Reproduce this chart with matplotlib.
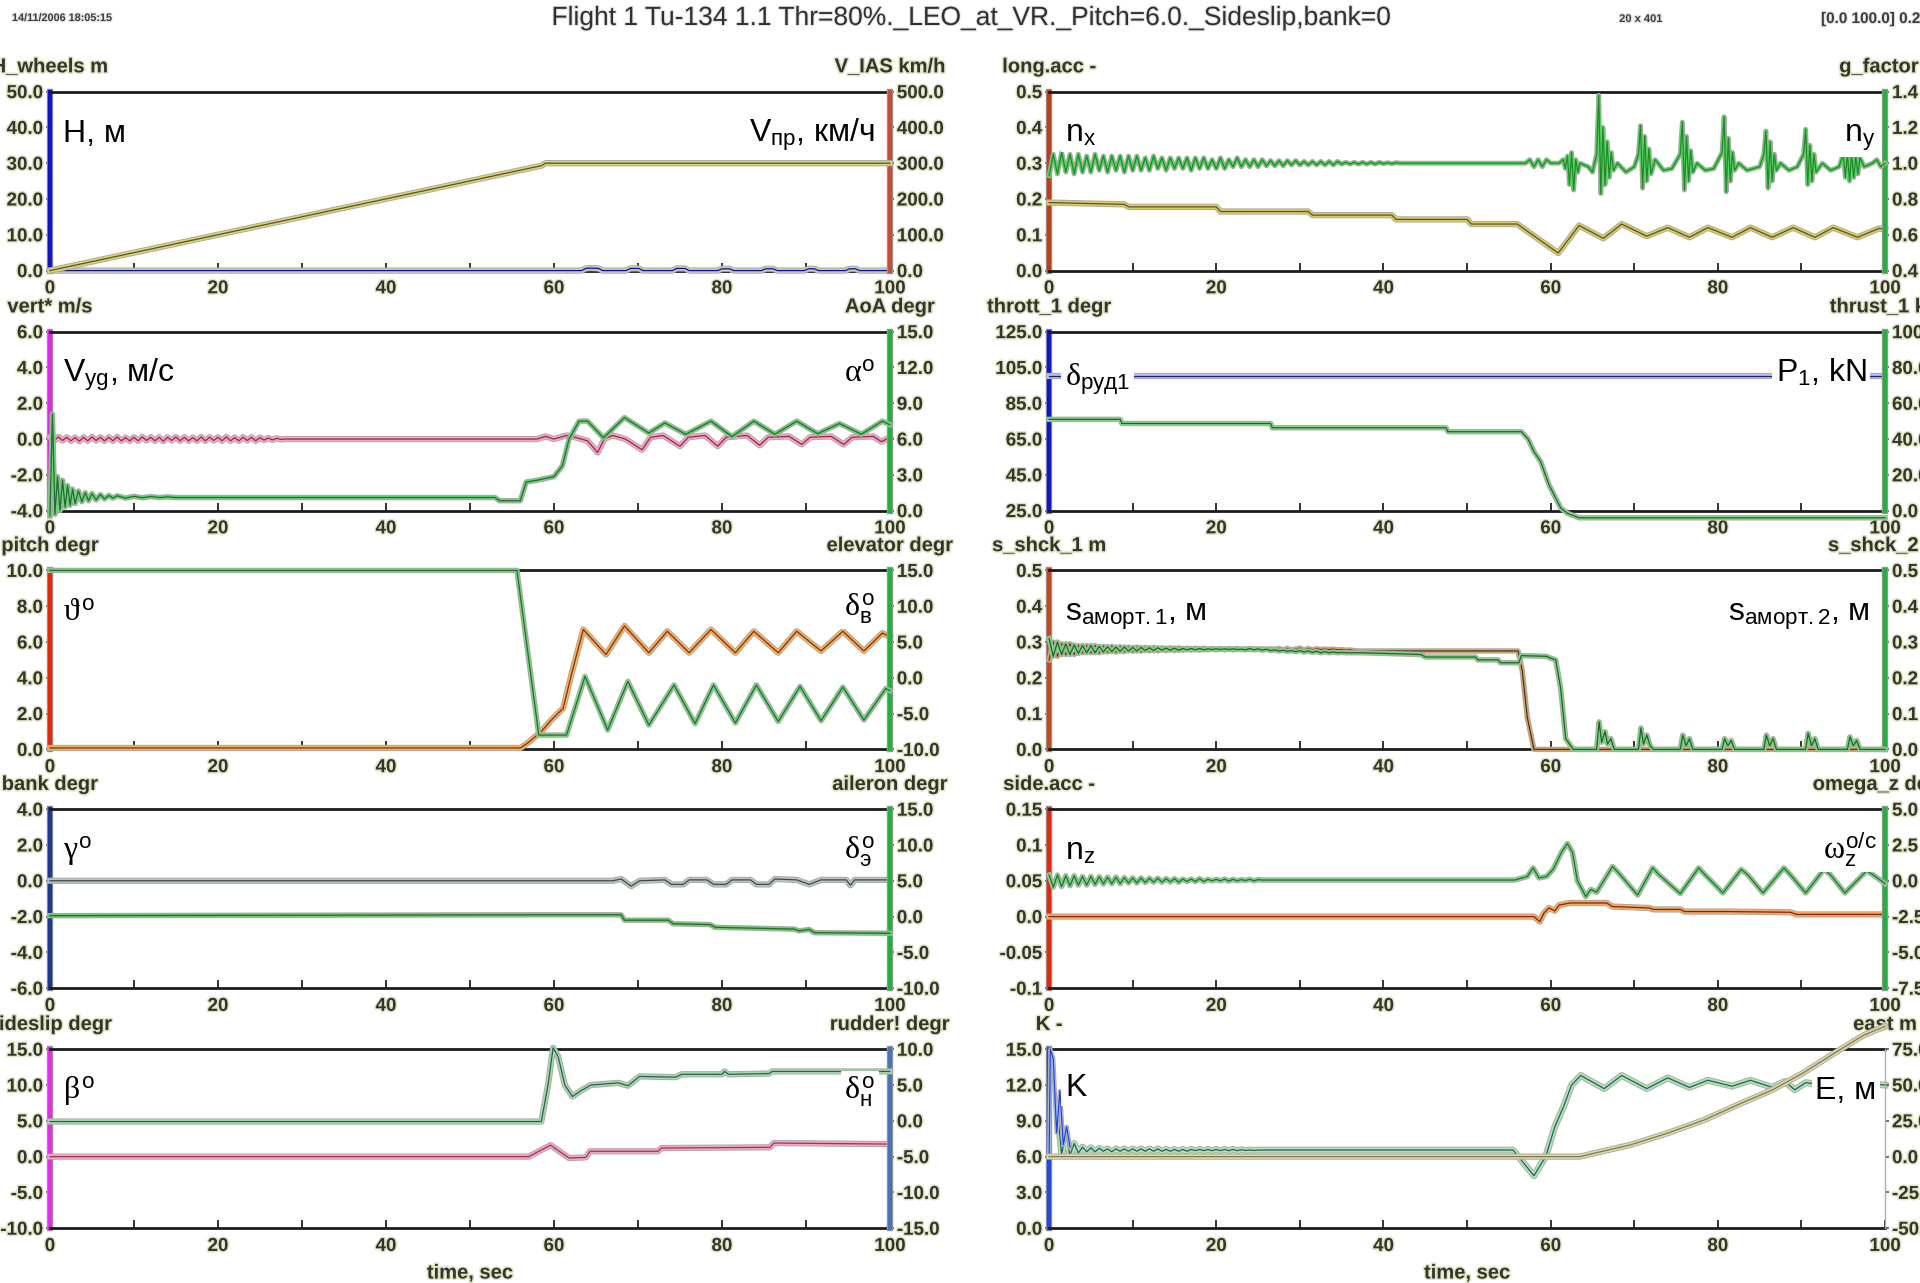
import numpy as np
import matplotlib
matplotlib.use('Agg')
import matplotlib.pyplot as plt
import matplotlib.patheffects as pe
from matplotlib import font_manager


def pick_font(names):
    for n in names:
        try:
            font_manager.findfont(n, fallback_to_default=False)
            return n
        except ValueError:
            pass
    return 'DejaVu Sans'


SANS = pick_font(['Liberation Sans', 'Arial', 'DejaVu Sans'])
SERIF = pick_font(['Liberation Serif', 'DejaVu Serif'])
plt.rcParams['font.family'] = [SANS, 'DejaVu Sans']
plt.rcParams['mathtext.fontset'] = 'custom'
plt.rcParams['mathtext.rm'] = SANS
plt.rcParams['mathtext.it'] = SERIF
plt.rcParams['mathtext.bf'] = SANS + ':bold'

# ---------------- data ----------------
STEP = 0.5  # sample spacing used for the noisy stretches

# row 1 left: height of wheels / indicated airspeed
vias = [(0, 0.0), (58.5, 293.0), (59.0, 300.0), (100, 300.0)]
h_wheels = [(0, 0.0), (63.3, 0.0), (63.8, 0.6), (64.3, 0.7), (65.3, 0.6), (65.8, 0.0),
            (68.6, 0.0), (69.1, 0.6), (70.1, 0.6), (70.6, 0.0),
            (74.1, 0.0), (74.6, 0.6), (75.6, 0.6), (76.1, 0.0),
            (79.5, 0.0), (80.0, 0.5), (80.9, 0.5), (81.4, 0.0),
            (84.7, 0.0), (85.2, 0.5), (86.1, 0.5), (86.6, 0.0),
            (89.8, 0.0), (90.3, 0.5), (91.0, 0.5), (91.5, 0.0),
            (94.7, 0.0), (95.2, 0.5), (95.9, 0.5), (96.4, 0.0), (100, 0.0)]

# row 2 left: vertical speed / angle of attack
vert_noise = [0.1, -0.1, 0.12, -0.08, 0.1, -0.1, 0.08, -0.12, 0.1, -0.1, 0.12, -0.08, 0.1, -0.1,
              0.1, -0.1, 0.12, -0.1, 0.08, -0.1, 0.1,
              -0.1, 0.12, -0.08, 0.1, -0.1, 0.1, -0.12, 0.1, -0.08, 0.12, -0.1, 0.1, -0.1, 0.08,
              -0.1, 0.12, -0.1, 0.1, -0.08,
              0.1, -0.1, 0.12, -0.1, 0.08, -0.1, 0.1, -0.08, 0.1, -0.1, 0.08, -0.06, 0.06, -0.05,
              0.04, -0.02, 0.0]
vert_late = [(28.5, 0.0), (58.0, 0.0), (59.0, 0.15), (60.0, 0.0), (61.5, 0.2), (62.5, 0.1),
             (64.0, -0.1), (65.2, -0.75), (66.0, 0.0), (67.0, 0.2), (68.5, 0.0), (70.5, -0.6),
             (71.5, 0.1), (73.0, 0.2), (75.0, -0.4), (76.0, 0.1), (78.0, 0.2), (79.5, -0.4),
             (80.5, 0.1), (83.0, 0.2), (84.5, -0.35), (85.5, 0.1), (88.0, 0.15), (89.5, -0.3),
             (90.5, 0.1), (93.0, 0.15), (94.5, -0.3), (95.5, 0.1), (98.0, 0.15), (99.0, -0.15),
             (100, 0.1)]
aoa = [(0, -0.45), (0.3, 8.1), (0.6, -0.3), (0.9, 2.85), (1.2, 0.0), (1.5, 2.55), (1.8, 0.3),
       (2.1, 2.1), (2.4, 0.45), (2.7, 1.8), (3.0, 0.6), (3.4, 1.65), (3.8, 0.75), (4.2, 1.5),
       (4.6, 0.83), (5.0, 1.43), (5.5, 0.9), (6.0, 1.35), (6.5, 0.98), (7.0, 1.28), (7.5, 1.05),
       (8.0, 1.25), (9.0, 1.05), (10.0, 1.2), (11.0, 1.08), (12.0, 1.18), (13.0, 1.1),
       (14.0, 1.15), (15.0, 1.1), (53.0, 1.1), (53.5, 0.83), (56.0, 0.83), (56.7, 2.4),
       (58.0, 2.55), (60.0, 2.85), (61.0, 3.75), (61.8, 6.0), (63.0, 7.5), (64.0, 7.5),
       (65.9, 6.1), (68.4, 7.8), (71.3, 6.5), (73.2, 7.35), (75.7, 6.4), (78.7, 7.5),
       (81.2, 6.2), (83.8, 7.5), (86.3, 6.4), (88.9, 7.5), (91.4, 6.45), (94.0, 7.3),
       (96.6, 6.4), (99.1, 7.5), (100, 7.2)]

# row 3 left: pitch / elevator
pitch = [(0, 0.08), (56.0, 0.08), (57.0, 0.4), (58.5, 1.0), (59.6, 1.6), (61.1, 2.3), (62.2, 4.4),
         (63.5, 6.7), (66.2, 5.3), (68.4, 6.9), (71.3, 5.4), (73.5, 6.6), (76.1, 5.4), (78.7, 6.7),
         (81.6, 5.4), (83.8, 6.6), (86.7, 5.4), (88.9, 6.6), (91.8, 5.5), (94.4, 6.6), (96.9, 5.5),
         (99.1, 6.5), (100, 6.3)]
elevator = [(0, 15.0), (55.6, 15.0), (58.2, -8.0), (61.5, -8.0), (63.7, 0.2), (66.4, -7.3),
            (68.8, -0.5), (71.3, -6.6), (74.3, -1.0), (76.8, -6.4), (79.0, -1.0), (81.6, -6.3),
            (84.1, -1.0), (86.7, -6.1), (89.3, -1.2), (91.8, -6.0), (94.4, -1.3), (96.9, -5.9),
            (99.5, -1.5), (100, -1.8)]

# row 4 left: bank / aileron
bank = [(0, 0.0), (67.0, 0.0), (68.0, 0.1), (69.2, -0.3), (70.2, 0.0), (73.2, 0.05), (74.0, -0.2),
        (75.4, -0.2), (76.1, 0.05), (78.2, 0.05), (79.0, -0.2), (80.5, -0.2), (81.2, 0.05),
        (83.4, 0.05), (84.1, -0.2), (85.6, -0.2), (86.3, 0.1), (88.9, 0.05), (90.4, -0.2),
        (91.8, 0.05), (94.8, 0.05), (95.3, -0.25), (95.8, 0.05), (100, 0.05)]
aileron = [(0, 0.125), (59.6, 0.25), (68.0, 0.25), (68.4, -0.5), (73.6, -0.5), (74.2, -1.0),
           (78.6, -1.125), (79.2, -1.5), (88.6, -1.75), (89.2, -2.0), (90.4, -1.8), (91.0, -2.25),
           (100, -2.33)]

# row 5 left: sideslip / rudder
sideslip = [(0, 0.0), (57.0, 0.0), (59.6, 1.6), (61.8, -0.2), (63.8, -0.1), (64.3, 0.75),
            (72.4, 0.75), (72.8, 1.2), (85.7, 1.3), (86.2, 1.9), (100, 1.75)]
rudder = [(0, -0.1), (58.5, -0.1), (59.3, 5.0), (59.9, 10.2), (60.5, 9.0), (61.3, 5.0), (62.2, 3.4),
          (63.2, 4.2), (64.4, 5.0), (67.7, 5.3), (68.8, 4.9), (70.2, 6.2), (74.5, 6.1), (75.2, 6.5),
          (80.0, 6.5), (80.3, 6.9), (80.8, 6.5), (85.6, 6.6), (86.0, 6.9), (100, 6.9)]

# row 1 right: longitudinal / normal load factor
n_x = [(0, 0.19), (9.0, 0.185), (9.5, 0.178), (20.0, 0.178), (20.5, 0.165), (31.0, 0.165),
       (31.5, 0.155), (41.0, 0.155), (41.5, 0.143), (50.0, 0.143), (50.5, 0.13), (56.0, 0.13),
       (60.9, 0.049), (63.4, 0.126), (66.3, 0.09), (68.5, 0.13), (71.5, 0.096), (74.0, 0.12),
       (76.6, 0.093), (78.8, 0.12), (81.7, 0.093), (83.9, 0.12), (86.5, 0.093), (89.0, 0.12),
       (91.6, 0.093), (93.8, 0.12), (96.7, 0.093), (99.3, 0.118), (100, 0.115)]
ny_noise = [0.93, 1.05, 0.94, 1.06, 0.95, 1.05, 0.94, 1.05, 0.95, 1.04, 0.95, 1.05, 0.96, 1.04,
            0.95, 1.04, 0.96, 1.04, 0.95, 1.04, 0.96,
            1.04, 0.96, 1.03, 0.96, 1.04, 0.97, 1.03, 0.96, 1.03, 0.97, 1.03, 0.97, 1.03, 0.96,
            1.03, 0.97, 1.03, 0.97, 1.02,
            0.97, 1.03, 0.97, 1.02, 0.98, 1.03, 0.98, 1.02, 0.98, 1.02, 0.98, 1.02, 0.985, 1.015,
            0.985, 1.015, 0.985, 1.015, 0.99,
            1.015, 0.99, 1.01, 0.99, 1.01, 0.99, 1.01, 0.99, 1.01, 0.99, 1.01, 0.995, 1.005, 0.995,
            1.005, 0.995, 1.005, 0.995, 1.005, 0.995, 1.005, 0.997, 1.003, 0.997, 1.003, 1.0]
ny_late = [(42.5, 1.0), (57.0, 1.0), (57.5, 1.02), (58.0, 0.98), (58.5, 1.02), (59.0, 0.98),
           (59.5, 1.02), (60.0, 1.0), (61.0, 1.0), (61.5, 1.02), (61.75, 0.97), (62.0, 1.04),
           (62.25, 0.88), (62.5, 1.06), (62.75, 0.85), (63.0, 1.02), (63.25, 0.95), (63.5, 1.0),
           (64.5, 0.98), (65.0, 0.95), (65.5, 1.05), (65.75, 1.38), (66.0, 0.83), (66.25, 1.2),
           (66.5, 0.88), (66.75, 1.12), (67.0, 0.92), (67.25, 1.06), (67.5, 0.96), (68.0, 1.0),
           (69.0, 0.95), (70.0, 0.98), (70.5, 1.05), (70.75, 1.21), (71.0, 0.86), (71.25, 1.15),
           (71.5, 0.9), (71.75, 1.08), (72.0, 0.94), (72.5, 1.02), (73.5, 0.96), (74.5, 0.97),
           (75.5, 1.05), (75.75, 1.23), (76.0, 0.85), (76.25, 1.15), (76.5, 0.9), (76.75, 1.07),
           (77.0, 0.95), (77.5, 1.0), (78.5, 0.96), (79.5, 0.97), (80.5, 1.06), (80.75, 1.26),
           (81.0, 0.84), (81.25, 1.14), (81.5, 0.9), (81.75, 1.06), (82.0, 0.96), (82.5, 1.0),
           (83.5, 0.96), (85.0, 0.98), (85.5, 1.05), (85.75, 1.18), (86.0, 0.86), (86.25, 1.12),
           (86.5, 0.9), (86.75, 1.05), (87.0, 0.96), (87.5, 1.0), (88.5, 0.96), (89.5, 0.98),
           (90.25, 1.05), (90.5, 1.19), (90.75, 0.88), (91.0, 1.1), (91.25, 0.9), (91.5, 1.05),
           (91.75, 0.95), (92.5, 1.0), (93.5, 0.96), (94.5, 0.98), (95.0, 1.05), (95.25, 0.92),
           (95.5, 1.05), (95.75, 0.9), (96.0, 1.05), (96.25, 0.92), (96.5, 1.04), (96.75, 0.94),
           (97.0, 1.03), (97.5, 0.98), (98.5, 1.0), (99.0, 1.02), (99.5, 0.98), (100, 1.0)]

# row 2 right: throttle / thrust
throttle = [(0, 100.0), (100, 100.0)]
thrust = [(0, 51.0), (8.5, 51.0), (8.7, 48.7), (26.5, 48.7), (26.7, 46.3), (47.5, 46.3),
          (47.7, 44.1), (56.5, 44.1), (57.3, 40.0), (58.0, 33.0), (58.8, 27.4), (59.8, 14.4),
          (61.2, 1.5), (62.0, -1.5), (63.4, -4.0), (100, -4.0)]

# row 3 right: shock absorber strokes
s1_noise = [0.25, 0.30, 0.26, 0.295, 0.265, 0.295, 0.265, 0.29, 0.27, 0.29, 0.27, 0.29, 0.27,
            0.288, 0.272, 0.288, 0.272, 0.287, 0.273, 0.286, 0.274,
            0.286, 0.274, 0.285, 0.275, 0.285, 0.275, 0.284, 0.276, 0.284, 0.276, 0.284, 0.277,
            0.283, 0.277, 0.283, 0.277, 0.283, 0.278, 0.282,
            0.278, 0.282, 0.278, 0.282, 0.278, 0.282, 0.279, 0.281, 0.279, 0.281, 0.279, 0.281,
            0.279, 0.281, 0.28, 0.282, 0.278, 0.282, 0.278,
            0.28, 0.283, 0.277, 0.282, 0.278, 0.281, 0.279, 0.28, 0.279, 0.28, 0.278, 0.279,
            0.277, 0.278, 0.276, 0.275]
s1_late = [(37.5, 0.275), (56.1, 0.275), (56.6, 0.22), (57.2, 0.09), (58.0, 0.0), (100, 0.0)]
s2_noise = [0.31, 0.26, 0.30, 0.265, 0.295, 0.265, 0.292, 0.268, 0.29, 0.27, 0.29, 0.27, 0.288,
            0.272, 0.287, 0.273, 0.286, 0.274, 0.286, 0.275, 0.285,
            0.275, 0.285, 0.276, 0.284, 0.276, 0.284, 0.277, 0.283, 0.277, 0.283, 0.277, 0.282,
            0.278, 0.282, 0.278, 0.282, 0.278, 0.281, 0.279,
            0.281, 0.279, 0.281, 0.279, 0.281, 0.279, 0.28, 0.278, 0.282, 0.278, 0.281, 0.277,
            0.28, 0.276, 0.278, 0.275, 0.277, 0.274, 0.276,
            0.273, 0.276, 0.272, 0.275, 0.271, 0.274, 0.27, 0.273, 0.27, 0.272, 0.27, 0.271,
            0.27, 0.27, 0.27, 0.27]
s2_late = [(37.5, 0.27), (44.5, 0.265), (45.0, 0.258), (51.0, 0.258), (51.3, 0.25), (53.7, 0.25),
           (54.0, 0.242), (56.2, 0.242), (56.5, 0.262), (59.5, 0.26), (60.0, 0.255), (60.6, 0.25),
           (61.2, 0.17), (61.8, 0.03), (62.7, 0.0), (65.5, 0.0), (65.8, 0.077), (66.1, 0.02),
           (66.5, 0.05), (66.8, 0.015), (67.2, 0.03), (67.6, 0.0), (70.5, 0.0), (70.8, 0.06),
           (71.1, 0.015), (71.5, 0.04), (71.9, 0.01), (72.3, 0.0), (75.5, 0.0), (75.8, 0.04),
           (76.2, 0.01), (76.6, 0.03), (77.0, 0.0), (80.5, 0.0), (80.8, 0.03), (81.2, 0.01),
           (81.6, 0.025), (82.0, 0.0), (85.5, 0.0), (85.8, 0.04), (86.2, 0.01), (86.6, 0.03),
           (87.0, 0.0), (90.5, 0.0), (90.8, 0.045), (91.2, 0.01), (91.6, 0.03), (92.0, 0.0),
           (95.5, 0.0), (95.8, 0.035), (96.2, 0.01), (96.6, 0.025), (97.0, 0.0), (100, 0.0)]

# row 4 right: side load factor / pitch rate
n_z = [(0, 0.0), (58.0, 0.0), (58.7, -0.007), (59.2, 0.005), (59.8, 0.012), (60.5, 0.008),
       (61.0, 0.016), (62.3, 0.019), (66.7, 0.019), (67.4, 0.014), (71.8, 0.012), (72.3, 0.01),
       (75.5, 0.01), (76.0, 0.007), (81.3, 0.007), (88.7, 0.006), (89.4, 0.003), (100, 0.003)]
wz_noise = [0.4, -0.45, 0.4, -0.4, 0.35, -0.35, 0.35, -0.3, 0.3, -0.3, 0.3, -0.25, 0.28, -0.22,
            0.25, -0.2, 0.25, -0.2, 0.22, -0.15, 0.2,
            -0.15, 0.2, -0.12, 0.18, -0.1, 0.18, -0.1, 0.15, -0.08, 0.15, -0.1, 0.12, -0.05, 0.12,
            -0.05, 0.15, -0.05, 0.1, 0.0,
            0.1, 0.0, 0.12, -0.02, 0.1, 0.0, 0.08, 0.02, 0.1, 0.0, 0.08, 0.05, 0.05]
wz_late = [(26.5, 0.05), (55.7, 0.05), (57.2, 0.3), (57.9, 0.9), (58.6, 0.2), (59.5, 0.3),
           (60.3, 0.8), (61.3, 2.0), (62.0, 2.6), (62.6, 2.0), (63.2, 0.0), (64.2, -1.1),
           (64.8, -0.6), (65.5, -0.8), (67.4, 1.0), (68.2, 0.5), (70.4, -1.0), (72.2, 0.9),
           (73.0, 0.4), (75.5, -0.9), (77.7, 0.9), (78.5, 0.4), (80.6, -0.85), (82.8, 0.8),
           (83.6, 0.4), (85.4, -0.85), (87.9, 0.9), (88.7, 0.4), (90.5, -0.85), (92.7, 0.8),
           (93.5, 0.4), (95.2, -0.85), (97.8, 0.7), (98.6, 0.4), (100, -0.2)]

# row 5 right: lift-to-drag ratio / east displacement
k_start = [(0, 6.0), (0.15, 15.0), (0.5, 14.2), (0.9, 8.0), (1.3, 11.5), (1.7, 7.0), (2.1, 8.5),
           (2.5, 6.8)]
k_noise = [9.8, 6.2, 8.0, 6.1, 7.1, 6.3, 6.8, 6.4, 6.75, 6.4, 6.7, 6.45, 6.65, 6.4, 6.65, 6.45,
           6.65, 6.45, 6.65, 6.45, 6.65,
           6.45, 6.65, 6.45, 6.65, 6.45, 6.6, 6.45, 6.6, 6.45, 6.6, 6.45, 6.6, 6.5, 6.6, 6.5, 6.6,
           6.5, 6.6, 6.5,
           6.6, 6.5, 6.6, 6.5, 6.58, 6.52, 6.56, 6.52, 6.55]
k_late = [(25.5, 6.55), (55.5, 6.55), (58.0, 4.4), (59.4, 6.0), (60.5, 8.5), (61.6, 10.3),
          (62.5, 12.0), (63.6, 12.8), (66.4, 11.7), (68.5, 12.8), (71.5, 11.7), (74.0, 12.6),
          (76.6, 11.8), (78.8, 12.4), (81.7, 11.9), (83.9, 12.4), (86.5, 11.8), (88.0, 12.3),
          (89.2, 11.6), (90.5, 12.2), (93.0, 12.0), (96.0, 12.2), (100, 12.0)]
east = [(0, 0.0), (63.5, 0.0), (65.3, 2.5), (69.6, 8.3), (74.0, 16.4), (78.4, 25.7), (82.8, 37.3),
        (86.5, 46.5), (90.1, 58.1), (94.5, 74.3), (97.4, 84.7), (100, 91.0)]

# axis scales
X_MAJOR = [0, 20, 40, 60, 80, 100]
X_MINOR = [10, 30, 50, 70, 90]
ticks_h = [0, 10, 20, 30, 40, 50]
ticks_vias = [0, 100, 200, 300, 400, 500]
ticks_vert = [-4, -2, 0, 2, 4, 6]
ticks_aoa = [0, 3, 6, 9, 12, 15]
ticks_pitch = [0, 2, 4, 6, 8, 10]
ticks_elev = [-10, -5, 0, 5, 10, 15]
ticks_bank = [-6, -4, -2, 0, 2, 4]
ticks_ail = [-10, -5, 0, 5, 10, 15]
ticks_slip = [-10, -5, 0, 5, 10, 15]
ticks_rud = [-15, -10, -5, 0, 5, 10]
ticks_nx = [0, 0.1, 0.2, 0.3, 0.4, 0.5]
ticks_ny = [0.4, 0.6, 0.8, 1.0, 1.2, 1.4]
ticks_thr = [25, 45, 65, 85, 105, 125]
ticks_thrust = [0, 20, 40, 60, 80, 100]
ticks_s1 = [0, 0.1, 0.2, 0.3, 0.4, 0.5]
ticks_s2 = [0, 0.1, 0.2, 0.3, 0.4, 0.5]
ticks_nz = [-0.1, -0.05, 0.0, 0.05, 0.1, 0.15]
labels_nz = ['-0.1', '-0.05', '0.0', '0.05', '0.1', '0.15']
ticks_wz = [-7.5, -5.0, -2.5, 0.0, 2.5, 5.0]
ticks_k = [0, 3, 6, 9, 12, 15]
ticks_east = [-50, -25, 0, 25, 50, 75]

TITLE = 'Flight 1 Tu-134 1.1 Thr=80%._LEO_at_VR._Pitch=6.0._Sideslip,bank=0'

# ---------------- drawing ----------------
TXT = '#34342a'
GLOW = [pe.withStroke(linewidth=2.2, foreground='#dfe6c6')]
SOFT = [pe.withStroke(linewidth=1.6, foreground='#e4e4e0')]
fig = plt.figure(figsize=(19.2, 12.83), dpi=100)
fig.patch.set_facecolor('white')

COL_X = [0.0260, 0.5464]
COL_W = [0.4375, 0.4354]
ROW_Y = [0.7891, 0.6020, 0.4159, 0.2298, 0.0427]
ROW_H = 0.1395


def pts(pairs):
    a = np.array(pairs, dtype=float)
    return a[:, 0], a[:, 1]


def joined(noise, start, pairs):
    t = start + STEP * np.arange(len(noise))
    tl, vl = pts(pairs)
    return np.concatenate([t, tl]), np.concatenate([np.array(noise, float), vl])


def fmt(ticks):
    return ['%.1f' % v for v in ticks]


def trace(ax, t, v, core, halo, lw=3.2):
    ln, = ax.plot(t, v, color=core, lw=0.9, clip_on=False, zorder=3,
                  solid_joinstyle='round')
    ln.set_path_effects([pe.Stroke(linewidth=lw + 1.3, foreground='#a8aaa0'),
                         pe.Stroke(linewidth=lw, foreground=halo),
                         pe.Normal()])
    return ln


def style_ticklabels(a):
    for lab in a.get_xticklabels() + a.get_yticklabels():
        lab.set_path_effects(GLOW)
        lab.set_fontweight('bold')


def panel(col, row, lt, ll, rt, rl, ltitle, rtitle, lcol, rcol):
    ax = fig.add_axes([COL_X[col], ROW_Y[row], COL_W[col], ROW_H])
    ax2 = ax.twinx()
    ax.set_xlim(0, 100)
    ax.set_ylim(lt[0], lt[-1])
    ax2.set_ylim(rt[0], rt[-1])
    ax.set_xticks(X_MAJOR, [str(v) for v in X_MAJOR])
    ax.set_xticks(X_MINOR, minor=True)
    ax.tick_params(axis='x', which='both', direction='in', length=6, width=1.3,
                   color='#222222', pad=7, labelsize=13.5, labelcolor=TXT)
    ax.set_yticks(lt, ll)
    ax2.set_yticks(rt, rl)
    for a in (ax, ax2):
        a.tick_params(axis='y', direction='out', length=3, width=1.2, color='#555555',
                      pad=2, labelsize=13.5, labelcolor=TXT)
    style_ticklabels(ax)
    style_ticklabels(ax2)
    for s in ('top', 'bottom'):
        ax.spines[s].set_color('#1c1c1c')
        ax.spines[s].set_linewidth(2.0)
    ax.spines['right'].set_visible(False)
    for s in ('left', 'top', 'bottom'):
        ax2.spines[s].set_visible(False)
    ax.spines['left'].set_color(lcol)
    ax.spines['left'].set_linewidth(3.2)
    ax.spines['left'].set_path_effects([pe.Stroke(linewidth=4.6, foreground='#9c9c9c'),
                                        pe.Normal()])
    if rcol is None:
        ax2.spines['right'].set_color('#b0b0b0')
        ax2.spines['right'].set_linewidth(1.0)
    else:
        ax2.spines['right'].set_color(rcol)
        ax2.spines['right'].set_linewidth(3.2)
        ax2.spines['right'].set_path_effects([pe.Stroke(linewidth=4.6, foreground='#9c9c9c'),
                                              pe.Normal()])
    for x, s in ((0, ltitle), (1, rtitle)):
        ax.annotate(s, xy=(x, 1), xycoords='axes fraction', xytext=(0, 11),
                    textcoords='offset points', ha='center', va='bottom',
                    fontsize=14.5, fontweight='bold', color=TXT, annotation_clip=False,
                    path_effects=GLOW)
    return ax, ax2


def tag(ax2, x, s, ha, y=0.72):
    ax2.text(x, y, s, transform=ax2.transAxes, ha=ha, va='baseline', fontsize=23,
             color='black', zorder=20,
             bbox=dict(facecolor='white', edgecolor='none', pad=2.5))


LX_L, LX_R = 0.016, 0.9825
RX_L, RX_R = 0.019, 0.988

# 1 left
ax, ax2 = panel(0, 0, ticks_h, fmt(ticks_h), ticks_vias, fmt(ticks_vias),
                'H_wheels m', 'V_IAS km/h', '#1414c8', '#c0503a')
trace(ax, *pts(h_wheels), '#10108a', '#c4ccc0')
trace(ax2, *pts(vias), '#5c5220', '#d8d27a')
tag(ax2, LX_L, 'H, м', 'left')
tag(ax2, LX_R, r'V$_{\mathrm{пр}}$, км/ч', 'right')

# 2 left
ax, ax2 = panel(0, 1, ticks_vert, fmt(ticks_vert), ticks_aoa, fmt(ticks_aoa),
                'vert* m/s', 'AoA degr', '#e028e0', '#22b040')
trace(ax, *joined(vert_noise, 0.0, vert_late), '#a02048', '#f2a8c8')
trace(ax2, *pts(aoa), '#246a34', '#6fd07a', lw=2.6)
tag(ax2, LX_L, r'V$_{\mathrm{yg}}$, м/с', 'left')
tag(ax2, LX_R, r'$\alpha^{\mathrm{o}}$', 'right')

# 3 left
ax, ax2 = panel(0, 2, ticks_pitch, fmt(ticks_pitch), ticks_elev, fmt(ticks_elev),
                'pitch degr', 'elevator degr', '#e02a10', '#22b040')
trace(ax, *pts(pitch), '#8a2a10', '#f2b25a')
trace(ax2, *pts(elevator), '#246a34', '#7ad480', lw=2.6)
tag(ax2, LX_L, r'$\vartheta^{\mathrm{o}}$', 'left')
tag(ax2, LX_R, r'$\delta_{\mathrm{в}}^{\mathrm{o}}$', 'right', y=0.745)

# 4 left
ax, ax2 = panel(0, 3, ticks_bank, fmt(ticks_bank), ticks_ail, fmt(ticks_ail),
                'bank degr', 'aileron degr', '#203888', '#22b040')
trace(ax, *pts(bank), '#404848', '#b8c4bc')
trace(ax2, *pts(aileron), '#1e6e24', '#74c878', lw=2.6)
tag(ax2, LX_L, r'$\gamma^{\mathrm{o}}$', 'left')
tag(ax2, LX_R, r'$\delta_{\mathrm{э}}^{\mathrm{o}}$', 'right')

# 5 left
ax, ax2 = panel(0, 4, ticks_slip, fmt(ticks_slip), ticks_rud, fmt(ticks_rud),
                'sideslip degr', 'rudder! degr', '#e030e0', '#4a74b4')
trace(ax, *pts(sideslip), '#a03060', '#f2a8c4')
trace(ax2, *pts(rudder), '#2a6050', '#a8d8b0')
tag(ax2, LX_L, r'$\beta^{\mathrm{o}}$', 'left')
tag(ax2, LX_R, r'$\delta_{\mathrm{н}}^{\mathrm{o}}$', 'right')

# 1 right
ax, ax2 = panel(1, 0, ticks_nx, fmt(ticks_nx), ticks_ny, fmt(ticks_ny),
                'long.acc -', 'g_factor -', '#b8401c', '#22b040')
trace(ax, *pts(n_x), '#5e5020', '#d8cc66')
trace(ax2, *joined(ny_noise, 0.0, ny_late), '#1f8a2a', '#5cd066', lw=2.2)
tag(ax2, RX_L, r'n$_{\mathrm{x}}$', 'left')
tag(ax2, RX_R, r'n$_{\mathrm{y}}$', 'right')

# 2 right
ax, ax2 = panel(1, 1, ticks_thr, fmt(ticks_thr), ticks_thrust, fmt(ticks_thrust),
                'thrott_1 degr', 'thrust_1 kN', '#1414c8', '#22b040')
trace(ax, *pts(throttle), '#1c1c80', '#b4c4e4')
trace(ax2, *pts(thrust), '#206424', '#8ad28e', lw=2.6)
tag(ax2, RX_L, r'$\delta_{\mathrm{руд1}}$', 'left', y=0.70)
tag(ax2, 0.978, r'P$_{\mathrm{1}}$, kN', 'right')

# 3 right
ax, ax2 = panel(1, 2, ticks_s1, fmt(ticks_s1), ticks_s2, fmt(ticks_s2),
                's_shck_1 m', 's_shck_2 m', '#c04a20', '#22b040')
trace(ax, *joined(s1_noise, 0.0, s1_late), '#503220', '#d4a46e', lw=2.6)
trace(ax2, *joined(s2_noise, 0.0, s2_late), '#206424', '#82d088', lw=2.6)
tag(ax2, RX_L, r's$_{\mathrm{аморт.1}}$, м', 'left')
tag(ax2, 0.982, r's$_{\mathrm{аморт.2}}$, м', 'right')

# 4 right
ax, ax2 = panel(1, 3, ticks_nz, labels_nz, ticks_wz, fmt(ticks_wz),
                'side.acc -', 'omega_z deg/s', '#e02a10', '#22b040')
trace(ax, *pts(n_z), '#902000', '#f2aa62')
trace(ax2, *joined(wz_noise, 0.0, wz_late), '#207030', '#80d288', lw=2.6)
tag(ax2, RX_L, r'n$_{\mathrm{z}}$', 'left')
tag(ax2, 0.99, r'$\omega_{\mathrm{z}}^{\mathrm{o/c}}$', 'right')

# 5 right
ax, ax2 = panel(1, 4, ticks_k, fmt(ticks_k), ticks_east, fmt(ticks_east),
                'K -', 'east m', '#2a48d8', None)
trace(ax, *joined(k_noise, 1.0, k_late), '#206060', '#b2e2b4', lw=3.6)
trace(ax, *pts(k_start), '#2040e0', '#b0c4f0', lw=1.8)
trace(ax2, *pts(east), '#847460', '#dadaa2')
tag(ax2, RX_L, 'K', 'left', y=0.74)
tag(ax2, 0.99, 'E, м', 'right')

# header and footer texts
fig.text(12 / 1920, 1 - 18 / 1283, '14/11/2006 18:05:15', fontsize=7.8, fontweight='bold',
         color='#3c3c3c', va='center', ha='left', path_effects=SOFT)
fig.text(971 / 1920, 1 - 18 / 1283, TITLE, fontsize=19, color='#303030', va='center',
         ha='center', path_effects=SOFT)
fig.text(1641 / 1920, 1 - 19 / 1283, '20 x 401', fontsize=8, fontweight='bold',
         color='#3c3c3c', va='center', ha='center', path_effects=SOFT)
fig.text(1821 / 1920, 1 - 19 / 1283, '[0.0 100.0] 0.25', fontsize=11, fontweight='bold',
         color='#3c3c3c', va='center', ha='left', path_effects=SOFT)
for c in range(2):
    fig.text(COL_X[c] + COL_W[c] / 2, 1 - 1273 / 1283, 'time, sec', fontsize=14.5,
             fontweight='bold', color=TXT, ha='center', va='center', path_effects=GLOW)

fig.savefig('out.png', dpi=100, facecolor='white')
